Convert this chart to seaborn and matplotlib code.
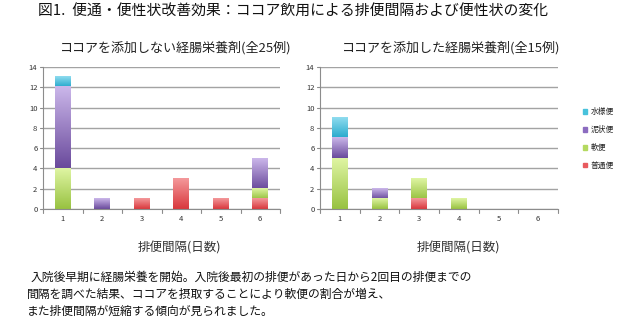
import numpy as np
import pandas as pd
import matplotlib
matplotlib.use("Agg")
import matplotlib.pyplot as plt
import matplotlib.colors as mcolors
import seaborn as sns
from matplotlib.patches import Patch

sns.set_theme(style="white")
plt.rcParams["font.family"] = ["Noto Sans CJK JP", "DejaVu Sans"]

days = ["1", "2", "3", "4", "5", "6"]
stool_types = ["普通便", "軟便", "泥状便", "水様便"]

# counts per interval (days) for each stool type
no_cocoa_normal = [0, 0, 1, 3, 1, 1]
no_cocoa_soft = [4, 0, 0, 0, 0, 1]
no_cocoa_muddy = [8, 1, 0, 0, 0, 3]
no_cocoa_watery = [1, 0, 0, 0, 0, 0]

cocoa_normal = [0, 0, 1, 0, 0, 0]
cocoa_soft = [5, 1, 2, 1, 0, 0]
cocoa_muddy = [2, 1, 0, 0, 0, 0]
cocoa_watery = [2, 0, 0, 0, 0, 0]

# base colour plus the darker / lighter ends of each bar's gradient fill
colors = {"普通便": "#e85a5e", "軟便": "#b4d960", "泥状便": "#8c6cc0", "水様便": "#48c2dc"}
shades = {
    "普通便": ("#d9383d", "#f4999b"),
    "軟便": ("#98c241", "#dff5a3"),
    "泥状便": ("#6a4a9c", "#cbb7ea"),
    "水様便": ("#27a9cc", "#8fdcef"),
}

W, H = 620, 324
fig = plt.figure(figsize=(W / 100, H / 100), dpi=100)


def ax_rect(x0, y0, x1, y1):
    return [x0 / W, 1 - y1 / H, (x1 - x0) / W, (y1 - y0) / H]


def gradient(ax, patch, lo, hi, name, z):
    c0 = np.array(mcolors.to_rgb(shades[name][0]))
    c1 = np.array(mcolors.to_rgb(shades[name][1]))
    t = np.linspace(0, 1, 64)[:, None]
    img = (c0 + (c1 - c0) * t)[:, None, :]
    x0 = patch.get_x()
    x1 = x0 + patch.get_width()
    ax.imshow(img, extent=(x0, x1, lo, hi), origin="lower", aspect="auto",
              interpolation="bilinear", zorder=z)


def stacked(ax, layers):
    df = pd.DataFrame({"day": days})
    cum = np.zeros(len(days))
    segs = []
    for name, vals in layers:
        lo = cum.copy()
        cum = cum + np.array(vals)
        segs.append((name, lo, cum.copy()))
    # tallest cumulative layer first, so every segment remains visible
    z = 2.0
    for name, lo, hi in reversed(segs):
        df["v"] = hi
        n0 = len(ax.patches)
        sns.barplot(data=df, x="day", y="v", color=colors[name], width=0.4,
                    saturation=1, ax=ax, order=days, linewidth=0, zorder=z)
        for i, p in enumerate(ax.patches[n0:]):
            if hi[i] > lo[i]:
                gradient(ax, p, lo[i], hi[i], name, z + 0.01)
        z += 0.1
    ax.set_ylim(0, 14)
    ax.set_xlim(-0.5, 5.5)
    ax.set_yticks(range(0, 15, 2))
    ax.yaxis.grid(True, color="#a3a3a3", linewidth=1)
    ax.set_axisbelow(True)
    for s in ["top", "right"]:
        ax.spines[s].set_visible(False)
    for s in ["left", "bottom"]:
        ax.spines[s].set_color("#8c8c8c")
        ax.spines[s].set_linewidth(0.8)
    ax.tick_params(axis="both", labelsize=5.5, colors="#333333", length=0, pad=4)
    ax.set_xticks(range(6))
    ax.set_xticklabels(days)
    # tick marks on category boundaries and at each y gridline
    for b in np.arange(-0.5, 6.0, 1.0):
        ax.plot([b, b], [0, -0.35], color="#8c8c8c", lw=0.8, clip_on=False)
    for yv in range(0, 15, 2):
        ax.plot([-0.5, -0.58], [yv, yv], color="#8c8c8c", lw=0.8, clip_on=False)
    ax.set_xlabel("")
    ax.set_ylabel("")


ax1 = fig.add_axes(ax_rect(43, 67, 280, 209))
stacked(ax1, [("普通便", no_cocoa_normal), ("軟便", no_cocoa_soft),
              ("泥状便", no_cocoa_muddy), ("水様便", no_cocoa_watery)])

ax2 = fig.add_axes(ax_rect(320, 67, 558, 209))
stacked(ax2, [("普通便", cocoa_normal), ("軟便", cocoa_soft),
              ("泥状便", cocoa_muddy), ("水様便", cocoa_watery)])

handles = [Patch(color=colors[n], label=n) for n in reversed(stool_types)]
fig.legend(handles=handles, loc="center left", bbox_to_anchor=(583 / W, 1 - 139 / H),
           frameon=False, fontsize=5.6, handlelength=0.55, handleheight=0.55,
           handletextpad=0.45, labelspacing=1.25, borderpad=0, borderaxespad=0,
           labelcolor="#222222")

fig.text(38 / W, 1 - 12 / H, "図1.  便通・便性状改善効果：ココア飲用による排便間隔および便性状の変化",
         fontsize=10.7, va="center", ha="left", color="#111111")
fig.text(176 / W, 1 - 48 / H, "ココアを添加しない経腸栄養剤(全25例)",
         fontsize=9.4, va="center", ha="center", color="#222222")
fig.text(451 / W, 1 - 48 / H, "ココアを添加した経腸栄養剤(全15例)",
         fontsize=9.4, va="center", ha="center", color="#222222")
fig.text(179 / W, 1 - 248 / H, "排便間隔(日数)", fontsize=9, va="center",
         ha="center", color="#333333")
fig.text(458 / W, 1 - 248 / H, "排便間隔(日数)", fontsize=9, va="center",
         ha="center", color="#333333")

lines = ["入院後早期に経腸栄養を開始。入院後最初の排便があった日から2回目の排便までの",
         "間隔を調べた結果、ココアを摂取することにより軟便の割合が増え、",
         "また排便間隔が短縮する傾向が見られました。"]
for i, (txt, x0) in enumerate(zip(lines, [31, 27, 27])):
    fig.text(x0 / W, 1 - (277 + 17 * i) / H, txt, fontsize=8.5, va="center",
             ha="left", color="#111111")

fig.savefig("out.png", dpi=100, facecolor="white")
